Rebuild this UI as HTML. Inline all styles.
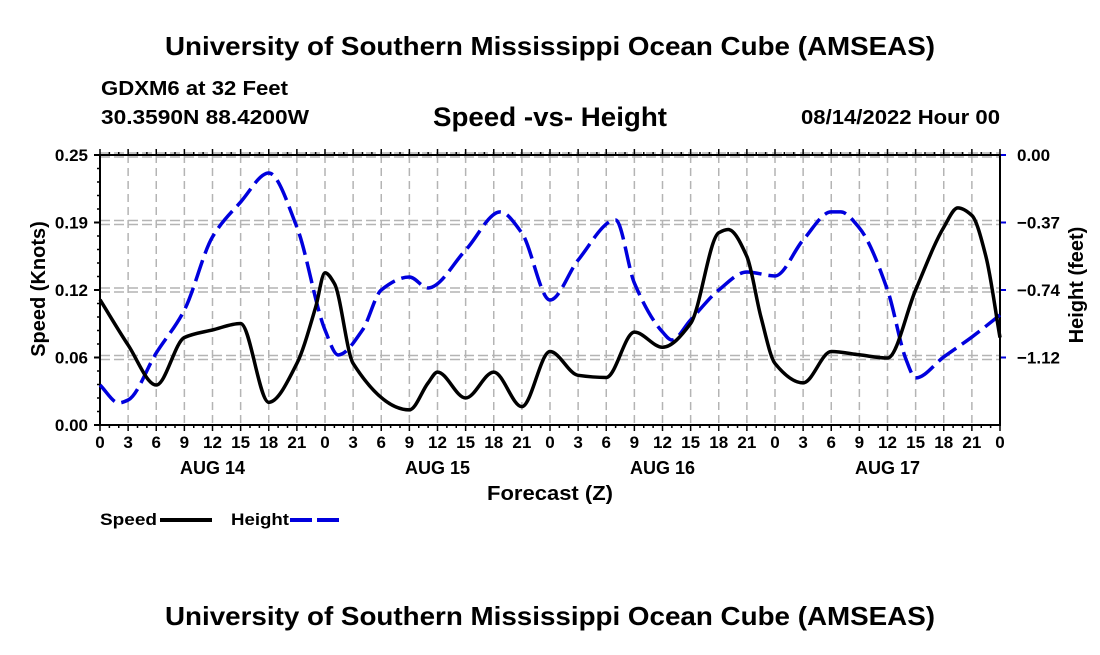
<!DOCTYPE html>
<html><head><meta charset="utf-8"><style>
body{margin:0;background:#fff;width:1100px;height:650px;overflow:hidden}
svg text{font-family:"Liberation Sans",sans-serif;font-weight:bold}
</style></head><body>
<svg id="chart" width="1100" height="650" viewBox="0 0 1100 650" xmlns="http://www.w3.org/2000/svg">
<rect width="1100" height="650" fill="#fff"/>
<text x="165" y="55" font-size="26" textLength="770" lengthAdjust="spacingAndGlyphs">University of Southern Mississippi Ocean Cube (AMSEAS)</text>
<text x="101" y="95" font-size="20" textLength="187" lengthAdjust="spacingAndGlyphs">GDXM6 at 32 Feet</text>
<text x="101" y="124" font-size="20" textLength="208" lengthAdjust="spacingAndGlyphs">30.3590N  88.4200W</text>
<text x="433" y="126" font-size="27" textLength="234" lengthAdjust="spacingAndGlyphs">Speed -vs- Height</text>
<text x="801" y="124" font-size="20" textLength="199" lengthAdjust="spacingAndGlyphs">08/14/2022 Hour 00</text>
<g id="grid"></g>
<g id="axes"></g>
<g id="series"></g>
<text transform="translate(45,289) rotate(-90)" font-size="20" text-anchor="middle">Speed (Knots)</text>
<text transform="translate(1083,285) rotate(-90)" font-size="20" text-anchor="middle">Height (feet)</text>
<text x="550" y="500" font-size="20" text-anchor="middle" textLength="126" lengthAdjust="spacingAndGlyphs">Forecast (Z)</text>
<g>
<text x="100" y="525" font-size="17" textLength="57" lengthAdjust="spacingAndGlyphs">Speed</text>
<line x1="160" y1="520" x2="212" y2="520" stroke="#000" stroke-width="4"/>
<text x="231" y="525" font-size="17" textLength="58" lengthAdjust="spacingAndGlyphs">Height</text>
<line x1="290" y1="520" x2="343" y2="520" stroke="#0000dd" stroke-width="4" stroke-dasharray="22,5"/>
</g>
<text x="165" y="625" font-size="26" textLength="770" lengthAdjust="spacingAndGlyphs">University of Southern Mississippi Ocean Cube (AMSEAS)</text>
</svg>
<script>
const speedHours = [0,3,6,9,12,15,18,21,23,24,25,27,33,35,36,39,42,45,48,51,54,57,60,63,66,67,69,70.5,72,75,78,81,84,87,90,91.5,93,94.5,96];
const speedValues = [0.116,0.074,0.037,0.081,0.088,0.094,0.021,0.057,0.109,0.141,0.131,0.057,0.014,0.039,0.049,0.025,0.049,0.017,0.068,0.046,0.044,0.086,0.072,0.094,0.178,0.181,0.156,0.100,0.057,0.039,0.068,0.065,0.062,0.125,0.183,0.201,0.194,0.156,0.081];
const heightHours = [0,2,3,6,9,12,15,18,21,24,25.4,28,30,33,35,39,42.7,45,48,51,55,57,60,61,63,66,69,72,75,78,79,81,84,86,87,90,93,96];
const heightValues = [-1.261,-1.359,-1.343,-1.085,-0.850,-0.449,-0.258,-0.099,-0.395,-0.959,-1.096,-0.959,-0.740,-0.669,-0.729,-0.521,-0.312,-0.428,-0.795,-0.576,-0.356,-0.702,-0.970,-1.014,-0.904,-0.740,-0.641,-0.663,-0.466,-0.312,-0.312,-0.400,-0.740,-1.124,-1.222,-1.107,-0.998,-0.877];
const speedTickLabels = ["0.00","0.06","0.12","0.19","0.25"];
const heightTickLabels = ["0.00","-0.37","-0.74","-1.12"];
const hourTickLabels = ["0","3","6","9","12","15","18","21"];
const dayLabels = ["AUG 14","AUG 15","AUG 16","AUG 17"];

const L=100,R=1000,T=155,B=425;
const xs=h=>L+(R-L)*h/96;
const ys=v=>B-(B-T)*v/0.25;
const yh=v=>T+(B-T)*(-v)/1.48;
const NS="http://www.w3.org/2000/svg";
function mk(tag,attrs,parent){const e=document.createElementNS(NS,tag);for(const k in attrs)e.setAttribute(k,attrs[k]);parent.appendChild(e);return e;}
const grid=document.getElementById('grid'),axes=document.getElementById('axes'),series=document.getElementById('series');

for(let h=3;h<96;h+=3){
  const g=mk('line',{x1:xs(h),x2:xs(h),y1:T,y2:B,stroke:'#b4b4b4','stroke-width':1.5,'stroke-dasharray':'8,5'},grid);
  
  
}
speedTickLabels.forEach((s,i)=>{
  const v=0.25*i/4,y=ys(v);
  if(i>0){[-2,2].forEach(d=>{
    const g=mk('line',{x1:L,x2:R,y1:y+d,y2:y+d,stroke:'#b4b4b4','stroke-width':1.5,'stroke-dasharray':'10,4'},grid);
    
    
  });}
  const t=mk('text',{x:88,y:y+6,'font-size':17,'text-anchor':'end'},axes);t.textContent=s;
  
  
  mk('line',{x1:L-6,x2:L,y1:y,y2:y,stroke:'#000','stroke-width':2},axes);
});
for(let k=0;k<=20;k++){const y=ys(0.25*k/20);mk('line',{x1:L-3,x2:L,y1:y,y2:y,stroke:'#000','stroke-width':1.5},axes);}
heightTickLabels.forEach((s,i)=>{
  const y=yh(-0.37*i);
  mk('line',{x1:R,x2:R+6,y1:y,y2:y,stroke:'#0000dd','stroke-width':2},axes);
  const t=mk('text',{x:1017,y:y+6,'font-size':17,'text-anchor':'start'},axes);t.textContent=s.replace('-','\u2212');
  
  
});
for(let h=0;h<=96;h++){
  const len=h%3===0?6:3;
  mk('line',{x1:xs(h),x2:xs(h),y1:B,y2:B+len,stroke:'#000','stroke-width':1.5},axes);
  mk('line',{x1:xs(h),x2:xs(h),y1:T,y2:T-len,stroke:'#000','stroke-width':1.5},axes);
}
for(let h=0;h<=96;h+=3){
  const t=mk('text',{x:xs(h),y:448,'font-size':17,'text-anchor':'middle'},axes);
  t.textContent=hourTickLabels[(h/3)%8];
  
  
}
dayLabels.forEach((d,i)=>{
  const t=mk('text',{x:xs(i*24+12),y:474,'font-size':18,'text-anchor':'middle'},axes);t.textContent=d;
  
  
});
const fr=mk('rect',{x:L,y:T,width:R-L,height:B-T,fill:'none',stroke:'#000','stroke-width':2},axes);



function monotone(pts){
  const n=pts.length,dx=[],m=[],t=new Array(n);
  for(let i=0;i<n-1;i++){dx.push(pts[i+1][0]-pts[i][0]);m.push((pts[i+1][1]-pts[i][1])/dx[i]);}
  t[0]=m[0];t[n-1]=m[n-2];
  for(let i=1;i<n-1;i++){
    if(m[i-1]*m[i]<=0)t[i]=0;
    else{const w1=2*dx[i]+dx[i-1],w2=dx[i]+2*dx[i-1];t[i]=(w1+w2)/(w1/m[i-1]+w2/m[i]);}
  }
  let d=`M${pts[0][0]},${pts[0][1]}`;
  for(let i=0;i<n-1;i++){
    const h=dx[i]/3;
    d+=` C${pts[i][0]+h},${pts[i][1]+t[i]*h} ${pts[i+1][0]-h},${pts[i+1][1]-t[i+1]*h} ${pts[i+1][0]},${pts[i+1][1]}`;
  }
  return d;
}
const hp=mk('path',{d:monotone(heightHours.map((h,i)=>[xs(h),yh(heightValues[i])])),fill:'none',stroke:'#0000dd','stroke-width':3.5,'stroke-dasharray':'22,7'},series);


const sp=mk('path',{d:monotone(speedHours.map((h,i)=>[xs(h),ys(speedValues[i])])),fill:'none',stroke:'#000','stroke-width':3.5},series);


</script>
</body></html>
